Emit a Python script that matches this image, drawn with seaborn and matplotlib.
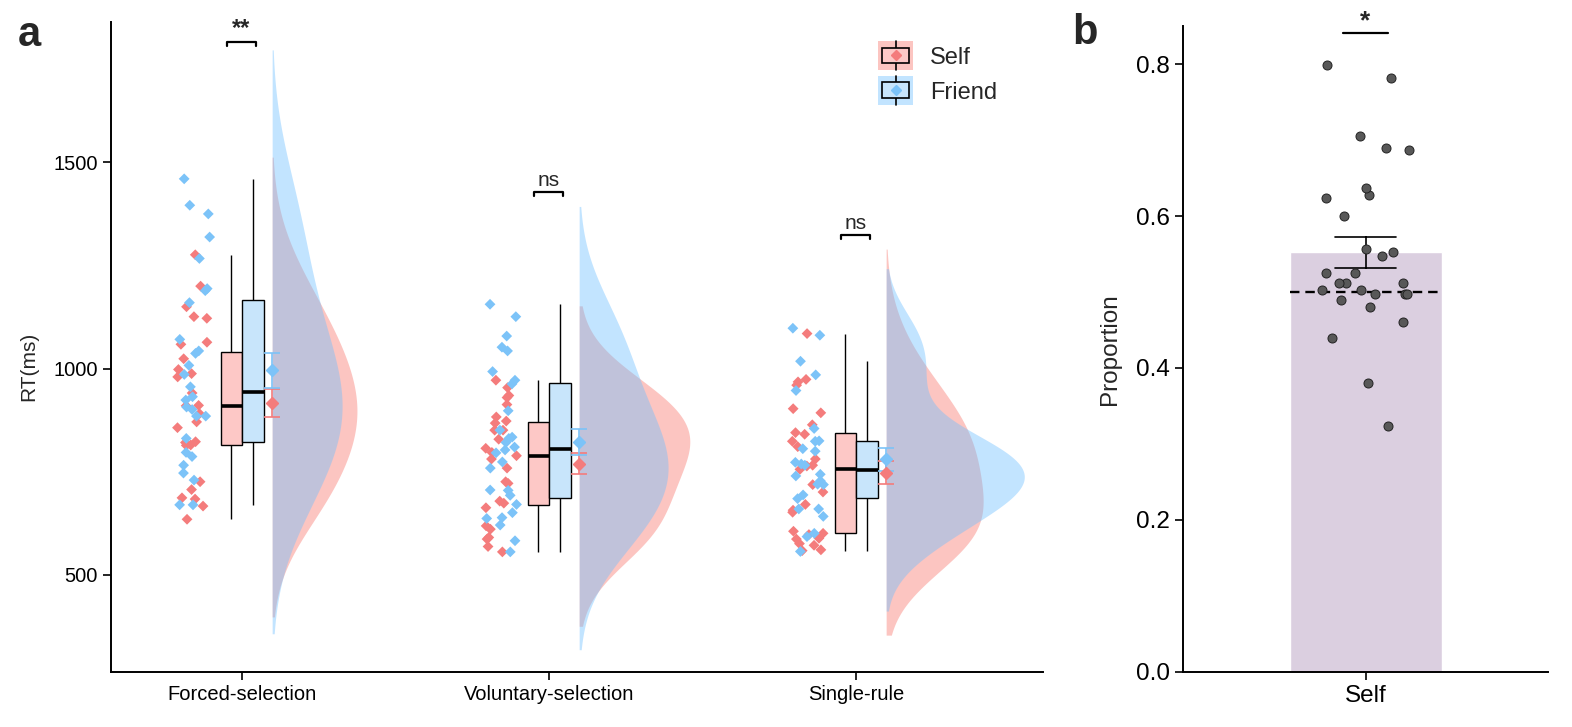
import numpy as np
import pandas as pd
import seaborn as sns
import matplotlib.pyplot as plt
from matplotlib.patches import Rectangle, Patch
from matplotlib.lines import Line2D
from matplotlib.legend_handler import HandlerBase
from matplotlib.ticker import FormatStrFormatter

# ---- data ----
conditions = ['Forced-selection', 'Voluntary-selection', 'Single-rule']
targets = ['Self', 'Friend']

forced_self = [1276, 1200, 1150, 1126, 1122, 1064, 1059, 1024, 998, 988, 980, 941, 911, 910,
               891, 871, 857, 823, 821, 815, 814, 726, 707, 687, 684, 667, 635]
forced_friend = [1460, 1396, 1375, 1319, 1267, 1194, 1189, 1160, 1071, 1043, 1037, 1008, 986, 956,
                 932, 924, 907, 901, 885, 885, 831, 797, 787, 766, 747, 730, 670, 670]
voluntary_self = [972, 954, 935, 930, 913, 883, 873, 868, 851, 851, 829, 807, 797, 789,
                  781, 759, 726, 722, 679, 674, 663, 619, 611, 591, 587, 569, 556]
voluntary_friend = [1156, 1126, 1079, 1052, 1043, 993, 972, 963, 898, 851, 834, 831, 821, 810,
                    803, 796, 774, 759, 706, 705, 693, 671, 651, 639, 637, 621, 583, 556]
single_self = [1085, 974, 968, 960, 903, 893, 864, 845, 841, 824, 811, 781, 766, 764, 756,
               719, 701, 671, 657, 652, 606, 601, 598, 589, 587, 576, 572, 561, 559]
single_friend = [1098, 1081, 1018, 985, 947, 855, 825, 824, 806, 800, 773, 769, 766, 744,
                 740, 728, 720, 719, 694, 685, 660, 660, 642, 601, 593, 557]

sig_labels = ['**', 'ns', 'ns']
sig_heights = [1792, 1429, 1325]

# panel b: proportion of self choices per participant
prop_self = [0.799, 0.781, 0.705, 0.689, 0.687, 0.627, 0.637, 0.624, 0.600, 0.557, 0.547, 0.552,
             0.525, 0.525, 0.512, 0.512, 0.512, 0.502, 0.498, 0.502, 0.498, 0.498, 0.489, 0.480,
             0.461, 0.440, 0.380, 0.324]
chance_level = 0.5

# ---- long format ----
rt = {('Forced-selection', 'Self'): forced_self, ('Forced-selection', 'Friend'): forced_friend,
      ('Voluntary-selection', 'Self'): voluntary_self, ('Voluntary-selection', 'Friend'): voluntary_friend,
      ('Single-rule', 'Self'): single_self, ('Single-rule', 'Friend'): single_friend}
rows = []
for (cond, tgt), vals in rt.items():
    for v in vals:
        rows.append((cond, tgt, v))
df = pd.DataFrame(rows, columns=['cond', 'target', 'rt'])

point_colors = {'Self': '#F47C7C', 'Friend': '#7CC3F8'}
box_colors = {'Self': '#FDC8C6', 'Friend': '#C8E5FB'}
dens_colors = {'Self': '#F8766D', 'Friend': '#6FC0FF'}

sns.set_style('ticks')
plt.rcParams['font.family'] = ['Liberation Sans', 'DejaVu Sans']

fig = plt.figure(figsize=(15.72, 7.27), dpi=100)
ax = fig.add_axes([0.0706, 0.0757, 0.5929, 0.894])
ax_b = fig.add_axes([0.7526, 0.0757, 0.2321, 0.8885])


def nrd0(x):
    x = np.asarray(x, float)
    q75, q25 = np.percentile(x, [75, 25])
    lo = min(x.std(ddof=1), (q75 - q25) / 1.34)
    return 0.9 * lo * len(x) ** -0.2


def kde(x, adjust=1.5):
    # smooth gaussian density, range extended by 3 x default bandwidth (untrimmed)
    x = np.asarray(x, float)
    bw0 = nrd0(x)
    bw = adjust * bw0
    grid = np.linspace(x.min() - 3 * bw0, x.max() + 3 * bw0, 400)
    d = np.exp(-0.5 * ((grid[:, None] - x[None, :]) / bw) ** 2).sum(1)
    return grid, d / (len(x) * bw * np.sqrt(2 * np.pi))


# half violins (flat side at the right of the boxes), common area scaling
dens = {key: kde(vals) for key, vals in rt.items()}
dmax = max(d.max() for _, d in dens.values())
base = 0.098
for i, cond in enumerate(conditions):
    for tgt in targets:
        grid, d = dens[(cond, tgt)]
        ax.fill_betweenx(grid, i + base, i + base + d / dmax * 0.45,
                         color=dens_colors[tgt], alpha=0.42, lw=0, zorder=1)

# boxes
sns.boxplot(data=df, x='cond', y='rt', hue='target', order=conditions, hue_order=targets,
            palette=box_colors, saturation=1, width=0.14, gap=0, showfliers=False,
            showcaps=False, linecolor='black', linewidth=1,
            medianprops={'linewidth': 2.6}, legend=False, ax=ax)

# raw points, shifted to the left of the boxes
np.random.seed(3)
n0 = len(ax.collections)
sns.stripplot(data=df, x='cond', y='rt', hue='target', order=conditions, hue_order=targets,
              palette=point_colors, dodge=False, jitter=0.055, marker='D', size=5.5,
              linewidth=0, legend=False, ax=ax, zorder=3)
for c in ax.collections[n0:]:
    off = c.get_offsets()
    off[:, 0] -= 0.158
    c.set_offsets(off)

# mean +/- SE
stats = df.groupby(['cond', 'target'])['rt'].agg(['mean', 'sem'])
for i, cond in enumerate(conditions):
    for tgt in targets:
        m, se = stats.loc[(cond, tgt)]
        ax.errorbar(i + base, m, yerr=se, fmt='D', color=point_colors[tgt], markersize=6.5,
                    capsize=5.5, elinewidth=1.2, capthick=1.2, zorder=4)

# significance brackets
for i, (lab, h) in enumerate(zip(sig_labels, sig_heights)):
    x0, x1 = i - 0.05, i + 0.045
    ax.plot([x0, x0, x1, x1], [h - 10, h, h, h - 10], color='black', lw=1.6, clip_on=False)
    ax.text((x0 + x1) / 2, h + 4, lab, ha='center', va='bottom',
            fontsize=15 if lab == 'ns' else 17, fontweight='bold' if lab != 'ns' else 'normal')

ax.set_xlim(-0.427, 2.609)
ax.set_ylim(265, 1840)
ax.set_yticks([500, 1000, 1500])
ax.set_xlabel('')
ax.set_ylabel('RT(ms)', fontsize=15)
ax.yaxis.set_label_coords(-0.078, 0.47)
ax.tick_params(length=6, width=1.2, colors='black', labelsize=14.5)
sns.despine(ax=ax)
for s in ['left', 'bottom']:
    ax.spines[s].set_linewidth(1.4)
    ax.spines[s].set_color('black')


class BoxHandle(HandlerBase):
    def __init__(self, bg, fill, dot):
        super().__init__()
        self.bg, self.fill, self.dot = bg, fill, dot

    def create_artists(self, legend, orig_handle, xd, yd, w, h, fontsize, trans):
        x0, y0 = -xd, -yd
        bg = Rectangle((x0, y0 - 0.35 * h), w, 1.7 * h, facecolor=self.bg, edgecolor='none',
                       alpha=0.42, transform=trans)
        wl = Line2D([x0 + w / 2] * 2, [y0 - 0.35 * h, y0 + 1.35 * h], color='black', lw=1.2,
                    transform=trans)
        box = Rectangle((x0 + 0.12 * w, y0 + 0.05 * h), 0.76 * w, 0.9 * h, facecolor=self.fill,
                        edgecolor='black', lw=1.2, transform=trans)
        dot = Line2D([x0 + w / 2], [y0 + h / 2], marker='D', markersize=5, color=self.dot,
                     ls='none', transform=trans)
        return [bg, wl, box, dot]


h_self = Patch(label='Self')
h_friend = Patch(label='Friend')
ax.legend(handles=[h_self, h_friend], labels=targets, loc='upper left',
          bbox_to_anchor=(0.80, 0.995), frameon=False, fontsize=17, handlelength=1.5,
          handleheight=0.75, handletextpad=0.7, labelspacing=0.55,
          handler_map={h_self: BoxHandle(dens_colors['Self'], box_colors['Self'], point_colors['Self']),
                       h_friend: BoxHandle(dens_colors['Friend'], box_colors['Friend'], point_colors['Friend'])})

# ---- panel b ----
xb = ['Self'] * len(prop_self)
sns.barplot(x=xb, y=prop_self, color='#DBCFE0', saturation=1, width=0.5, errorbar='se',
            capsize=0.2, err_kws={'color': 'black', 'linewidth': 1.2}, ax=ax_b)
ax_b.plot([-0.25, 0.25], [chance_level, chance_level], ls=(0, (4, 2.5)), color='black', lw=1.7,
          zorder=3)
np.random.seed(7)
sns.stripplot(x=xb, y=prop_self, color='#585858', edgecolor='#222222', linewidth=0.7, size=6.5,
              jitter=0.15, ax=ax_b, zorder=4)
ax_b.plot([-0.074, 0.074], [0.841, 0.841], color='black', lw=1.6, clip_on=False)
ax_b.text(0, 0.840, '*', ha='center', va='bottom', fontsize=19, fontweight='bold', clip_on=False)

ax_b.set_xlim(-0.6, 0.6)
ax_b.set_ylim(0, 0.85)
ax_b.set_yticks([0, 0.2, 0.4, 0.6, 0.8])
ax_b.yaxis.set_major_formatter(FormatStrFormatter('%.1f'))
ax_b.set_ylabel('Proportion', fontsize=17.5)
ax_b.yaxis.set_label_coords(-0.17, 0.5)
ax_b.tick_params(length=6, width=1.2, colors='black', labelsize=17.5)
sns.despine(ax=ax_b)
for s in ['left', 'bottom']:
    ax_b.spines[s].set_linewidth(1.4)
    ax_b.spines[s].set_color('black')

fig.text(0.019, 0.952, 'a', fontsize=30, fontweight='bold', ha='center', va='center')
fig.text(0.690, 0.955, 'b', fontsize=30, fontweight='bold', ha='center', va='center')

fig.savefig('out.png', dpi=100)
